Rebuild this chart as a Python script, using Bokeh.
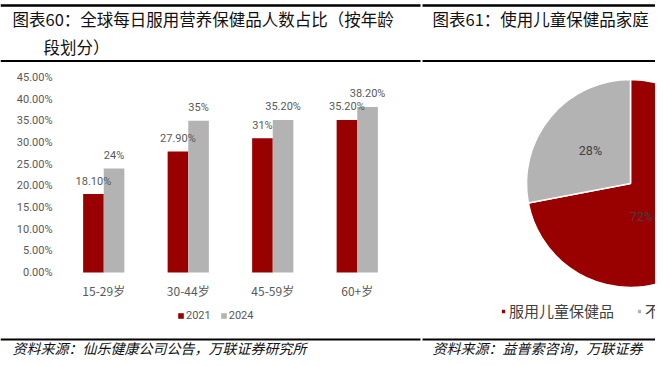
import math
from bokeh.plotting import figure
from bokeh.layouts import column, row
from bokeh.models import (Range1d, FactorRange, FixedTicker, NumeralTickFormatter,
                          Legend, LegendItem, ColumnDataSource)
from bokeh.transform import dodge
from bokeh.core.properties import value
from bokeh.embed import file_html
from bokeh.resources import INLINE

# ---------------- data ----------------
age_groups = ["15-29岁", "30-44岁", "45-59岁", "60+岁"]
years = ["2021", "2024"]
share_2021 = [0.181, 0.279, 0.31, 0.352]
share_2024 = [0.24, 0.35, 0.352, 0.382]
labels_2021 = ["18.10%", "27.90%", "31%", "35.20%"]
labels_2024 = ["24%", "35%", "35.20%", "38.20%"]
y_ticks = [0.0, 0.05, 0.10, 0.15, 0.20, 0.25, 0.30, 0.35, 0.40, 0.45]

pie_categories = ["服用儿童保健品", "不服用儿童保健品"]
pie_shares = [72, 28]
pie_labels = ["72%", "28%"]

title_left_1 = "图表60：全球每日服用营养保健品人数占比（按年龄"
title_left_2 = "段划分）"
title_right = "图表61：使用儿童保健品家庭"
source_left = "资料来源：仙乐健康公司公告，万联证券研究所"
source_right = "资料来源：益普索咨询，万联证券"

# ---------------- styles ----------------
RED = "#990000"
GRAY = "#B3B3B3"
TXT = "#595959"
CJK = value("Noto Sans CJK SC")
W = 655


def deco_fig(h):
    f = figure(width=W, height=h, x_range=Range1d(0, W), y_range=Range1d(h, 0),
               x_axis_type=None, y_axis_type=None, output_backend="svg",
               toolbar_location=None, min_border=0)
    f.grid.visible = False
    f.outline_line_color = None
    f.title.visible = False
    return f


# ---------------- header ----------------
HH = 64
head = deco_fig(HH)
head.segment(x0=[0, 422], x1=[420, W], y0=[5, 5], y1=[5, 5],
             line_color="black", line_width=2.5)
head.segment(x0=[0, 422], x1=[420, W], y0=[60.5, 60.5], y1=[60.5, 60.5],
             line_color="black", line_width=2)
head.text(x=[12, 43, 432], y=[18, 46, 18], text=[title_left_1, title_left_2, title_right],
          text_font=CJK, text_font_size="16.5px", text_color="#111111",
          text_baseline="middle", text_align="left")

# ---------------- bar chart ----------------
BH = 266
top_px, zero_px = 13, 208          # frame pixel rows of 45% and 0%
k = (zero_px - top_px) / 0.45      # pixels per unit share
src = ColumnDataSource(dict(age=age_groups, y2021=share_2021, y2024=share_2024,
                            l2021=labels_2021, l2024=labels_2024))
p = figure(width=421, height=BH, x_range=FactorRange(*age_groups),
           y_range=Range1d(-(BH - zero_px) / k, 0.45 + top_px / k),
           output_backend="svg", toolbar_location=None,
           min_border_left=61, min_border_right=22, min_border_top=0, min_border_bottom=0)
p.title.visible = False
p.grid.visible = False
p.outline_line_color = None
p.xaxis.visible = False

r1 = p.vbar(x=dodge("age", -0.122, range=p.x_range), top="y2021", bottom=0, width=0.244,
            source=src, fill_color=RED, line_color=None)
r2 = p.vbar(x=dodge("age", 0.122, range=p.x_range), top="y2024", bottom=0, width=0.244,
            source=src, fill_color=GRAY, line_color=None)
p.text(x=dodge("age", -0.122, range=p.x_range), y="y2021", text="l2021", source=src,
       text_align="center", text_baseline="middle", y_offset=-13,
       text_font=value("Roboto"), text_font_size="11px", text_color=TXT)
p.text(x=dodge("age", 0.122, range=p.x_range), y="y2024", text="l2024", source=src,
       text_align="center", text_baseline="middle", y_offset=-13,
       text_font=value("Roboto"), text_font_size="11px", text_color=TXT)
# category labels under the groups
p.text(x="age", y=0, text="age", source=src, text_align="center", text_baseline="middle",
       y_offset=18, text_font=CJK, text_font_size="12px", text_color=TXT)

p.yaxis.ticker = FixedTicker(ticks=y_ticks)
p.yaxis.formatter = NumeralTickFormatter(format="0.00%")
p.yaxis.axis_line_color = None
p.yaxis.major_tick_line_color = None
p.yaxis.minor_tick_line_color = None
p.yaxis.major_tick_out = 0
p.yaxis.major_tick_in = 0
p.yaxis.major_label_text_color = TXT
p.yaxis.major_label_text_font = "Roboto"
p.yaxis.major_label_text_font_size = "11px"
p.yaxis.major_label_standoff = 9

leg = Legend(items=[LegendItem(label=years[0], renderers=[r1]),
                    LegendItem(label=years[1], renderers=[r2])],
             orientation="horizontal", location=(116, 8),
             border_line_color=None, background_fill_alpha=0, padding=0, margin=0,
             spacing=9, label_standoff=2, glyph_width=7, glyph_height=7,
             label_height=12, label_text_font="Roboto", label_text_font_size="11px",
             label_text_color=TXT, label_text_baseline="middle")
p.add_layout(leg, "center")

# ---------------- pie chart ----------------
R = 104.0
PW, PH = 234, BH
CX, CY = 209, 119
pie = figure(width=PW, height=PH, x_range=Range1d(-CX / R, (PW - CX) / R),
             y_range=Range1d(-(PH - CY) / R, CY / R), x_axis_type=None, y_axis_type=None,
             output_backend="svg", toolbar_location=None, min_border=0)
pie.title.visible = False
pie.grid.visible = False
pie.outline_line_color = None

total = float(sum(pie_shares))
starts, ends, mids, cum = [], [], [], 0.0
for s in pie_shares:
    a0 = math.pi / 2 - 2 * math.pi * cum / total
    cum += s
    a1 = math.pi / 2 - 2 * math.pi * cum / total
    starts.append(a0)
    ends.append(a1)
    mids.append((a0 + a1) / 2)
x_lim = (PW - CX - 14) / R         # keep labels inside the visible canvas
psrc = ColumnDataSource(dict(cat=pie_categories, start=starts, end=ends,
                             color=[RED, GRAY], lab=pie_labels,
                             lx=[min(0.5 * math.cos(m), x_lim) for m in mids],
                             ly=[0.5 * math.sin(m) for m in mids]))
wr = pie.wedge(x=0, y=0, radius=1, start_angle="start", end_angle="end", direction="clock",
               fill_color="color", line_color="white", line_width=1.5, source=psrc)
pie.text(x="lx", y="ly", text="lab", source=psrc, text_align="center",
         text_baseline="middle", text_font=value("Roboto"), text_font_size="12.5px",
         text_color="#404040")
pleg = Legend(items=[LegendItem(label=pie_categories[i], renderers=[wr], index=i)
                     for i in range(len(pie_categories))],
              orientation="horizontal", location=(79, 9),
              border_line_color=None, background_fill_alpha=0, padding=0, margin=0,
              spacing=22, label_standoff=3, glyph_width=6, glyph_height=6,
              label_height=16, label_text_font="Noto Sans CJK SC",
              label_text_font_size="15px", label_text_color="#404040",
              label_text_baseline="middle")
pie.add_layout(pleg, "center")

# ---------------- footer ----------------
FH = 28
foot = deco_fig(FH)
foot.segment(x0=[0, 422], x1=[420, W], y0=[9, 9], y1=[9, 9],
             line_color="black", line_width=2)
foot.text(x=[12, 432], y=[17, 17], text=[source_left, source_right],
          text_font=CJK, text_font_size="14px", text_font_style="italic",
          text_color="#111111", text_baseline="middle", text_align="left")

layout = column(head, row(p, pie, spacing=0), foot, spacing=0)
open("out.html", "w").write(file_html(layout, INLINE))
